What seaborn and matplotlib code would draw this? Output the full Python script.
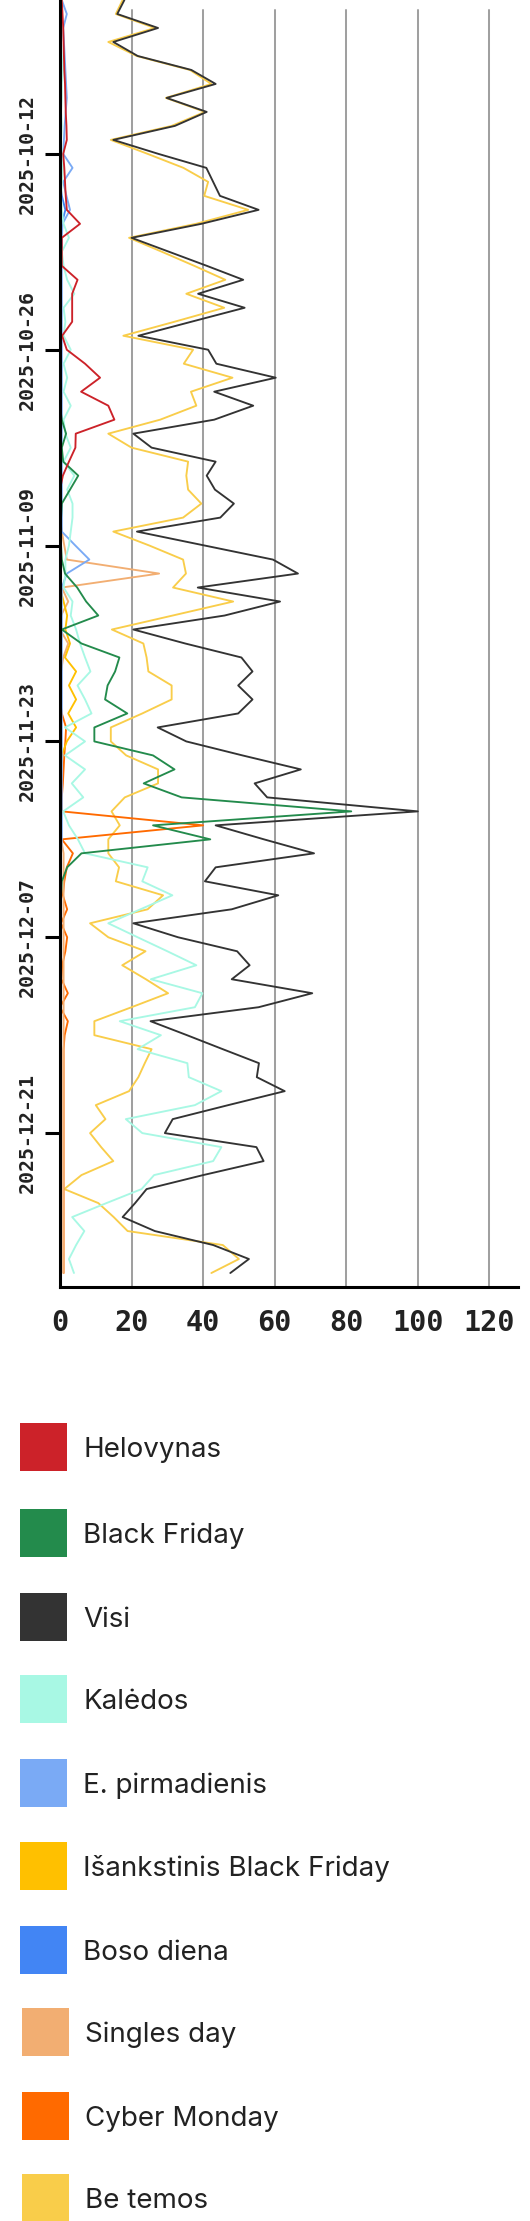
import pandas as pd
import seaborn as sns
import matplotlib.pyplot as plt
import matplotlib.dates as mdates
from matplotlib.patches import Rectangle

dates = pd.date_range("2025-10-01", "2025-12-31", freq="D")

# values per day, Oct 1 .. Dec 31
helovynas = ([0.5, 0.7, 0.9, 1.0, 1.1, 1.2, 1.4, 1.5, 1.6, 1.8, 1.9, 0.9, 1.2, 1.4, 1.6, 1.9,
              5.6, 0.5, 0.5, 0.5, 4.9, 3.4, 3.4, 3.4, 0.6, 1.9, 7, 11.2, 5.9, 13.5, 15.2]
             + [4.4, 4.3, 2.5, 0.8] + [0] * 26
             + [0] * 31)
black_friday = ([0] * 30 + [0.5]
                + [1.7, 0.5, 0.9, 5.1, 2.8, 0.5, 0.3, 0.3, 0.3, 0.5, 1.4, 4.8, 7.3, 10.7, 0.5,
                   6, 16.6, 15.4, 13.3, 12.6, 18.8, 9.6, 9.6, 26, 32, 23.4, 34, 81.4, 26, 42]
                + [6, 2, 0.5, 0.3, 0.2] + [0] * 26)
visi = ([18, 16, 27.4, 14.9, 21.7, 36.7, 43.5, 29.8, 41.0, 32.1, 14.9, 27.5, 40.9, 42.8, 44.7,
         55.5, 39.5, 20, 30.5, 41, 51.2, 38.6, 51.6, 36.7, 21.9, 41.4, 43.7, 60.3, 43.1, 54, 43.1]
        + [20.5, 25.6, 43.5, 41, 43.3, 48.6, 44.8, 21.5, 40.5, 59.5, 66.5, 38.5, 61.5, 46, 20.5,
           35, 50.7, 53.8, 49.8, 53.8, 49.8, 27.3, 35.3, 51, 67.3, 54.4, 57.9, 100, 43.5, 57]
        + [71, 43.5, 40.5, 61, 48, 20.5, 33, 49.5, 53, 48, 70.5, 55.5, 25.3, 35.5, 45.5,
           55.6, 55, 62.8, 47, 31.5, 29.3, 54.9, 56.9, 40, 24.2, 21, 17.5, 26.5, 42.8, 52.8, 47.6])
kaledos = ([0.5, 0.3, 0.5, 0.3, 0.5, 0.8, 0.5, 0.5, 0.3, 0.5, 0.3, 0.5, 0.8, 0.5, 0.3, 0.5,
            1, 2.5, 0.5, 1, 2, 4, 1, 1.5, 1, 3, 1, 2, 1, 3, 1]
           + [1.5, 3, 1, 4, 2, 3.5, 3.5, 3, 2.5, 1.5, 1.5, 1, 3.5, 3, 4.5,
              5.6, 7, 8.5, 4.9, 7, 8.8, 1.4, 7, 1.4, 7, 3.3, 6.5, 0.9, 2.5, 5]
           + [7, 24.5, 23, 31.4, 22.5, 13.5, 21.7, 30, 38.1, 25.4, 39.8, 37.7, 16.7, 28.2, 21.7,
              35.6, 36, 45.1, 37.7, 18.4, 23, 45.1, 42.8, 26.3, 22.8, 13, 3.4, 6.8, 4.5, 2.5, 3.9])
e_pirmadienis = ([0.5, 1.9, 0.9, 1.1, 1.3, 1.5, 1.7, 1.9, 1.6, 1.3, 1.1, 0.9, 3.5, 0.9, 1.8, 2.8, 0.7]
                 + [0.5] * 14
                 + [0.5] * 7 + [0.5, 4.3, 8.2, 1.9] + [0.5] * 19
                 + [0.3] * 31)
isankstinis_bf = ([0] * 31
                  + [0] * 12 + [1, 2, 1.5, 2.8, 1.4, 4.5, 2.5, 4.5, 2.3, 4.5, 1.9, 0.5] + [0.3] * 6
                  + [0] * 31)
boso_diena = ([0] * 14 + [0.5, 1.5, 0.5] + [0] * 14
              + [0] * 30
              + [0.3] * 31)
singles_day = ([0] * 31
               + [0] * 7 + [0.5, 1.2, 1.9, 27.7, 0.5, 2.3, 0.3, 0, 2.3, 0.9] + [0.3] * 13
               + [1.0] * 31)
cyber_monday = ([0] * 31
                + [0] * 20 + [0.5, 1.7, 1.5, 1.2, 1.0, 0.8, 0.5, 0.5, 40, 0.5]
                + [3.6, 1.9, 1.2, 0.8, 2, 0.3, 2, 1.5, 0.6, 0.4, 2.2, 0, 2.2, 1.3, 1, 1] + [1.0] * 15)
be_temos = ([17.5, 15.6, 26.5, 13.5, 21.4, 36.3, 42.3, 29.6, 40.5, 31.2, 14.2, 24.5, 34.5, 41.4, 40.3,
             52.6, 38, 19.3, 28.5, 37.5, 46.2, 35.3, 45.9, 32, 17.7, 37.2, 34.6, 48.2, 36.6, 38.1, 28]
            + [13.5, 20, 35.8, 35.3, 35.8, 39.5, 34.4, 14.9, 25, 34.4, 35.2, 31.6, 48.4, 31.5, 14.5,
               23.3, 24.2, 24.7, 31.2, 31.2, 23, 14.2, 14.2, 18.5, 27.4, 27.4, 18.1, 14.4, 16.7, 13.5]
            + [13.5, 16.5, 15.6, 28.8, 24.5, 8.4, 13.5, 23.9, 17.4, 24, 30.2, 20, 9.6, 9.6, 25.6,
               23.7, 21.9, 19.3, 10, 12.7, 8.4, 11.5, 14.9, 6, 1.2, 10.7, 15, 18.9, 45.5, 50, 42.3])

series_names = ["Helovynas", "Black Friday", "Visi", "Kalėdos", "E. pirmadienis",
                "Išankstinis Black Friday", "Boso diena", "Singles day", "Cyber Monday", "Be temos"]
series_colors = ["#cc2229", "#238b4c", "#333333", "#a8f8e4", "#7aaaf5",
                 "#ffc000", "#4285f4", "#f2ae72", "#ff6a00", "#f9cd4a"]
series_values = [helovynas, black_friday, visi, kaledos, e_pirmadienis,
                 isankstinis_bf, boso_diena, singles_day, cyber_monday, be_temos]
date_ticks = ["2025-10-12", "2025-10-26", "2025-11-09", "2025-11-23", "2025-12-07", "2025-12-21"]
x_ticks = [0, 20, 40, 60, 80, 100, 120]

df = pd.concat([pd.DataFrame({"date": dates, "value": v, "series": n})
                for n, v in zip(series_names, series_values)], ignore_index=True)

sns.set_style("white")
plt.rcParams["font.family"] = ["DejaVu Sans Mono"]
plt.rcParams["font.weight"] = "bold"

W, H = 530, 2221
fig = plt.figure(figsize=(W / 100, H / 100), dpi=100)
ax = fig.add_axes([60 / W, 1 - 1287 / H, (518 - 60) / W, 1287 / H])

# draw reversed so Visi sits above Be temos
sns.lineplot(data=df, x="value", y="date", hue="series", hue_order=series_names[::-1],
             palette=dict(zip(series_names, series_colors)), orient="y", estimator=None,
             sort=True, legend=False, linewidth=1.35, ax=ax)

for x in x_ticks[1:]:
    ax.axvline(x, ymin=0, ymax=1 - 10 / 1287, color="#a0a0a0", lw=1.45, zorder=0.5)

ax.set_xlim(0, 128)
ax.set_ylim(pd.Timestamp("2026-01-01"), pd.Timestamp("2025-10-01"))
ax.set_xticks(x_ticks)
ax.set_yticks(pd.to_datetime(date_ticks))
ax.yaxis.set_major_formatter(mdates.DateFormatter("%Y-%m-%d"))
ax.set_xlabel("")
ax.set_ylabel("")
ax.tick_params(axis="x", length=0, pad=15.5, labelsize=20.5, labelcolor="#222222")
ax.tick_params(axis="y", left=True, length=10.8, width=2.2, pad=5.8, labelsize=14.3,
               color="black", labelcolor="#222222", direction="out")
for lab in ax.get_yticklabels():
    lab.set_rotation(90)
    lab.set_va("center")
for s in ["top", "right"]:
    ax.spines[s].set_visible(False)
for s in ["left", "bottom"]:
    ax.spines[s].set_linewidth(2.2)
    ax.spines[s].set_color("black")

# legend drawn by hand, one row per series
lax = fig.add_axes([0, 0, 1, (H - 1380) / H])
lax.set_xlim(0, W)
lax.set_ylim(H, 1380)
lax.axis("off")
row_y = [1447, 1533, 1617, 1699, 1783, 1866, 1950, 2032, 2116, 2198]
row_x = [19.7] * 7 + [21.7] * 3
for name, col, yc, xl in zip(series_names, series_colors, row_y, row_x):
    lax.add_patch(Rectangle((xl, yc - 24), 47.5, 48, color=col, lw=0))
    lax.text(xl + 63.6, yc + 10, name, fontfamily="Inter", fontweight="normal",
             fontsize=20, color="#222222", va="baseline", ha="left")

fig.savefig("out.png", dpi=100)
